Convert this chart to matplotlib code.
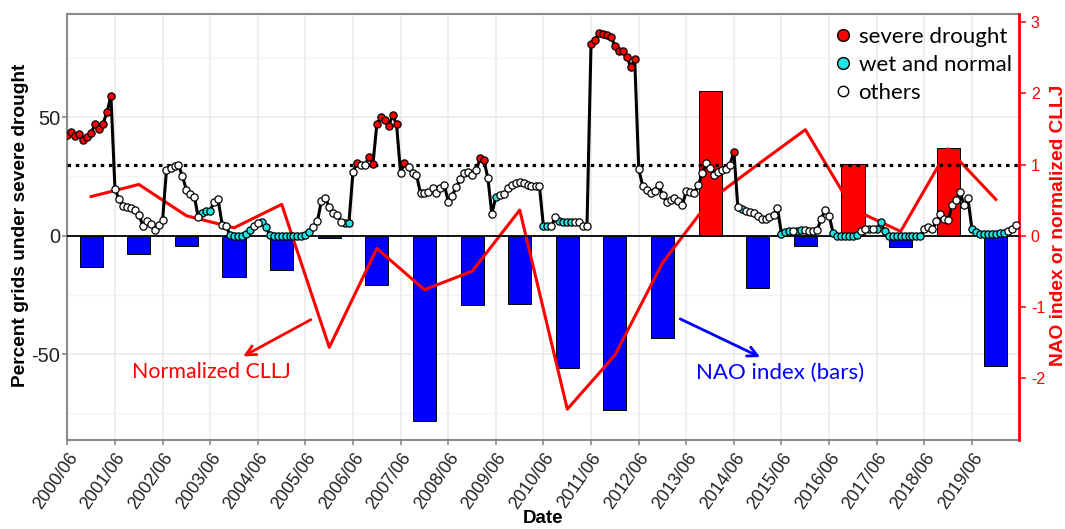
import matplotlib
matplotlib.use('Agg')
import matplotlib.pyplot as plt
import matplotlib.transforms as mtransforms
from matplotlib.lines import Line2D
from matplotlib.ticker import FixedLocator, NullFormatter
import pandas as pd

# ---------------- data ----------------
# monthly percent of grids under severe drought, June 2000 .. May 2020 (12 values per row: Jun..May)
percent_grids = [
    42.4, 43.8, 42.0, 42.9, 40.3, 41.7, 43.4, 47.3, 44.8, 47.3, 52.0, 59.0,   # 2000/06-
    19.7, 15.5, 12.3, 12.0, 11.6, 11.0, 8.8, 4.2, 6.0, 5.0, 2.5, 4.6,         # 2001/06-
    6.4, 27.7, 28.4, 29.4, 29.8, 25.0, 19.3, 17.6, 16.3, 7.8, 9.5, 10.2,      # 2002/06-
    10.5, 14.4, 15.5, 4.6, 3.9, 0.4, 0.0, 0.0, 0.0, 0.8, 2.5, 4.2,            # 2003/06-
    5.5, 5.8, 3.5, 0.3, 0.0, 0.0, 0.0, 0.0, 0.0, 0.0, 0.0, 0.0,               # 2004/06-
    0.3, 1.5, 3.5, 6.0, 14.5, 15.8, 12.0, 9.5, 8.8, 5.6, 5.5, 5.5,            # 2005/06-
    27.0, 30.5, 30.0, 30.0, 33.0, 30.3, 47.0, 49.9, 48.7, 46.2, 50.8, 47.0,   # 2006/06-
    26.3, 30.8, 29.1, 26.3, 25.6, 17.9, 17.9, 18.5, 20.0, 18.0, 20.0, 21.4,   # 2007/06-
    14.4, 16.8, 20.5, 23.8, 26.6, 27.0, 25.6, 27.7, 32.6, 31.9, 24.2, 9.2,    # 2008/06-
    16.5, 17.2, 17.6, 20.3, 21.4, 22.4, 22.8, 22.1, 21.5, 21.0, 21.0, 21.0,   # 2009/06-
    3.9, 3.9, 3.9, 8.0, 6.0, 5.8, 5.8, 5.8, 5.8, 5.8, 4.2, 4.2,               # 2010/06-
    81.0, 82.4, 85.4, 85.0, 84.5, 84.0, 80.0, 78.0, 78.0, 75.5, 71.2, 74.5,   # 2011/06-
    28.0, 21.0, 19.3, 18.2, 19.0, 21.4, 17.0, 14.4, 15.0, 15.8, 14.8, 13.0,   # 2012/06-
    18.8, 18.5, 18.2, 21.4, 26.3, 30.8, 28.4, 25.6, 27.0, 27.5, 28.0, 29.8,   # 2013/06-
    35.4, 12.0, 11.2, 10.2, 9.8, 9.4, 8.4, 7.0, 7.2, 7.8, 8.8, 11.6,          # 2014/06-
    0.8, 1.5, 2.0, 2.0, 2.0, 2.2, 2.2, 2.0, 2.0, 2.5, 7.0, 10.9,              # 2015/06-
    8.4, 1.1, 0.0, 0.0, 0.0, 0.0, 0.0, 0.3, 1.8, 2.8, 2.8, 2.8,               # 2016/06-
    2.8, 5.6, 1.8, 0.0, 0.0, 0.0, 0.0, 0.0, 0.0, 0.0, 0.0, 0.0,               # 2017/06-
    2.8, 3.7, 2.8, 6.0, 9.2, 7.0, 6.4, 13.0, 15.1, 18.6, 13.0, 15.8,          # 2018/06-
    2.8, 1.4, 0.8, 0.8, 0.8, 0.8, 0.8, 1.0, 1.0, 2.0, 3.0, 4.6,               # 2019/06-
]
# point class per month: r = severe drought, c = wet and normal, w = others
point_class = "".join([
    "rrrrrrrrrrrr", "wwwwwwwwwwww", "wwwwwwwwwwcc", "cwwwwccccccw",
    "wccccccccccc", "ccwwwwwwwwcc", "wrwwrrrrrrrr", "wrwwwwwwwwww",
    "wwwwwwwwrrww", "cwwwwwwwwwww", "ccwwccccwwww", "rrrrrrrrrrrr",
    "wwwwwwwwwwww", "wwwwwwwwwwww", "rwcwwwwwwwww", "cccwccwwwwww",
    "wcccccccwwcw", "cccccccccccc", "wwwwwwwwwwww", "cccccccccwww",
])
winter_years = list(range(2000, 2020))
nao_index = [-0.44, -0.26, -0.14, -0.58, -0.48, -0.04, -0.69, -2.60, -0.98, -0.96,
             -1.86, -2.45, -1.44, 2.03, -0.73, -0.14, 1.01, -0.16, 1.23, -1.83]
cllj_normalized = [0.55, 0.72, 0.28, 0.11, 0.44, -1.57, -0.18, -0.76, -0.50, 0.36,
                   -2.44, -1.68, -0.38, 0.50, 1.00, 1.49, 0.37, 0.06, 1.22, 0.51]
tick_years = list(range(2000, 2020))
tick_labels = [f"{y}/06" for y in tick_years]
drought_threshold = 30

# ---------------- figure ----------------
plt.rcParams['font.family'] = ['Liberation Sans', 'DejaVu Sans']
fig = plt.figure(figsize=(10.65, 5.29), dpi=100)
ax = fig.add_axes([67 / 1065, 1 - 440 / 529, 952 / 1065, 426 / 529])
ax2 = ax.twinx()
ax3 = ax.twinx()
ax.set_zorder(0); ax2.set_zorder(1); ax3.set_zorder(2)
ax2.patch.set_visible(False); ax3.patch.set_visible(False)

months = pd.date_range('2000-06-01', periods=len(percent_grids), freq='MS')
bar_dates = pd.to_datetime([f"{y}-12-01" for y in winter_years])
tick_dates = pd.to_datetime([f"{y}-06-01" for y in tick_years])

ylim_left = (-86.2, 93.5)
for a in (ax, ax3):
    a.set_ylim(*ylim_left)
ax2.set_ylim(ylim_left[0] / 30, ylim_left[1] / 30)
xlim = (pd.Timestamp('2000-05-29'), pd.Timestamp('2020-05-27'))
for a in (ax, ax2, ax3):
    a.set_xlim(*xlim)

# grid on bottom axis
ax.set_xticks(tick_dates)
ax.set_xticklabels(tick_labels, rotation=55, ha='right', va='top',
                   rotation_mode='anchor', fontsize=12.8, color='#222222')
shift = mtransforms.ScaledTranslation(0.10, -0.05, fig.dpi_scale_trans)
for lbl in ax.get_xticklabels():
    lbl.set_transform(lbl.get_transform() + shift)
ax.set_yticks([-50, 0, 50])
ax.set_yticklabels(['-50', '0', '50'], fontsize=14.5, color='#222222')
ax.yaxis.set_minor_locator(FixedLocator([-75, -25, 25, 75]))
ax.yaxis.set_minor_formatter(NullFormatter())
ax.grid(True, which='major', color='#ebebeb', lw=1.2)
ax.grid(True, which='minor', axis='y', color='#f3f3f3', lw=0.9)
ax.tick_params(axis='y', which='minor', length=0)
ax.tick_params(axis='both', which='major', color='#7f7f7f', length=3.5, width=1.1)
ax.tick_params(axis='y', which='major', pad=1.5)
ax.set_axisbelow(True)
for s in ['left', 'top', 'bottom']:
    ax.spines[s].set_color('#8a8a8a'); ax.spines[s].set_linewidth(1.5)
ax.spines['right'].set_visible(False)
ax.set_ylabel('Percent grids under severe drought', fontsize=13.8, fontweight='bold')
ax.yaxis.set_label_coords(-0.040, 0.503)
ax.set_xlabel('Date', fontsize=13.5, fontweight='bold')
ax.xaxis.set_label_coords(0.5, -0.165)

# NAO bars + CLLJ line on the right axis
bar_colors = ['#ff0000' if v > 0 else '#0000ff' for v in nao_index]
ax2.bar(bar_dates, nao_index, width=178, color=bar_colors, edgecolor='black', linewidth=0.7)
ax2.plot(bar_dates, cllj_normalized, color='#ff0000', lw=2.2)
ax2.set_yticks([-2, -1, 0, 1, 2, 3])
ax2.set_yticklabels(['-2', '-1', '0', '1', '2', '3'], fontsize=11.5, color='#ff0000')
ax2.tick_params(axis='y', colors='#ff0000', length=5, width=1.1)
for s in ['left', 'top', 'bottom']:
    ax2.spines[s].set_visible(False)
ax2.spines['right'].set_color('#ff0000'); ax2.spines['right'].set_linewidth(2)
ax2.set_ylabel('NAO index or normalized CLLJ', fontsize=13.8, fontweight='bold',
               color='#ff0000', rotation=90)
ax2.yaxis.set_label_coords(1.0326, 0.503)
ax2.tick_params(axis='x', which='both', bottom=False, labelbottom=False)

# drought series on top axis
ax3.axhline(0, color='black', lw=1.3, zorder=1)
ax3.axhline(drought_threshold, color='black', lw=2.3, dashes=(1.1, 1.5), zorder=2)
ax3.plot(months, percent_grids, color='black', lw=2.2, zorder=3)
class_style = {'r': '#ff0000', 'c': '#22e3e3', 'w': '#ffffff'}
for cls, col in class_style.items():
    xs = [m for m, c in zip(months, point_class) if c == cls]
    ys = [v for v, c in zip(percent_grids, point_class) if c == cls]
    ax3.plot(xs, ys, ls='none', marker='o', ms=5.2, mfc=col, mec='black', mew=0.9, zorder=4)
ax3.set_yticks([]); ax3.tick_params(axis='x', which='both', bottom=False, labelbottom=False)
for s in ax3.spines.values():
    s.set_visible(False)

# legend
handles = [
    Line2D([], [], ls='none', marker='o', ms=8.5, mfc='#ff0000', mec='black', mew=1.0),
    Line2D([], [], ls='none', marker='o', ms=8.5, mfc='#22e3e3', mec='black', mew=1.0),
    Line2D([], [], ls='none', marker='o', ms=7.5, mfc='#ffffff', mec='black', mew=1.0),
]
ax3.legend(handles, ['severe drought', 'wet and normal', 'others'], loc='upper left',
           bbox_to_anchor=(823 / 1065, 1 - 16 / 529), bbox_transform=fig.transFigure,
           frameon=False, prop={'family': 'Lato', 'size': 16}, handlelength=0.8,
           handletextpad=0.3, labelspacing=0.36, borderpad=0.0)

# annotations
ax3.annotate('', xy=(240.7, 529 - 357.7), xytext=(313.3, 529 - 318.3),
             xycoords='figure pixels', textcoords='figure pixels',
             arrowprops=dict(arrowstyle='->,head_length=0.7,head_width=0.35', color='#ff0000', lw=2))
ax3.text(211, 529 - 372, 'Normalized CLLJ', transform=None, fontsize=15.4, family='Lato',
         color='#ff0000', ha='center', va='center')
ax3.annotate('', xy=(762.7, 529 - 358.3), xytext=(677.7, 529 - 317.7),
             xycoords='figure pixels', textcoords='figure pixels',
             arrowprops=dict(arrowstyle='->,head_length=0.7,head_width=0.35', color='#0000ff', lw=2))
ax3.text(779.7, 529 - 373.3, 'NAO index (bars)', transform=None, fontsize=16, family='Lato',
         color='#0000ff', ha='center', va='center')

fig.savefig('out.png', dpi=100)
